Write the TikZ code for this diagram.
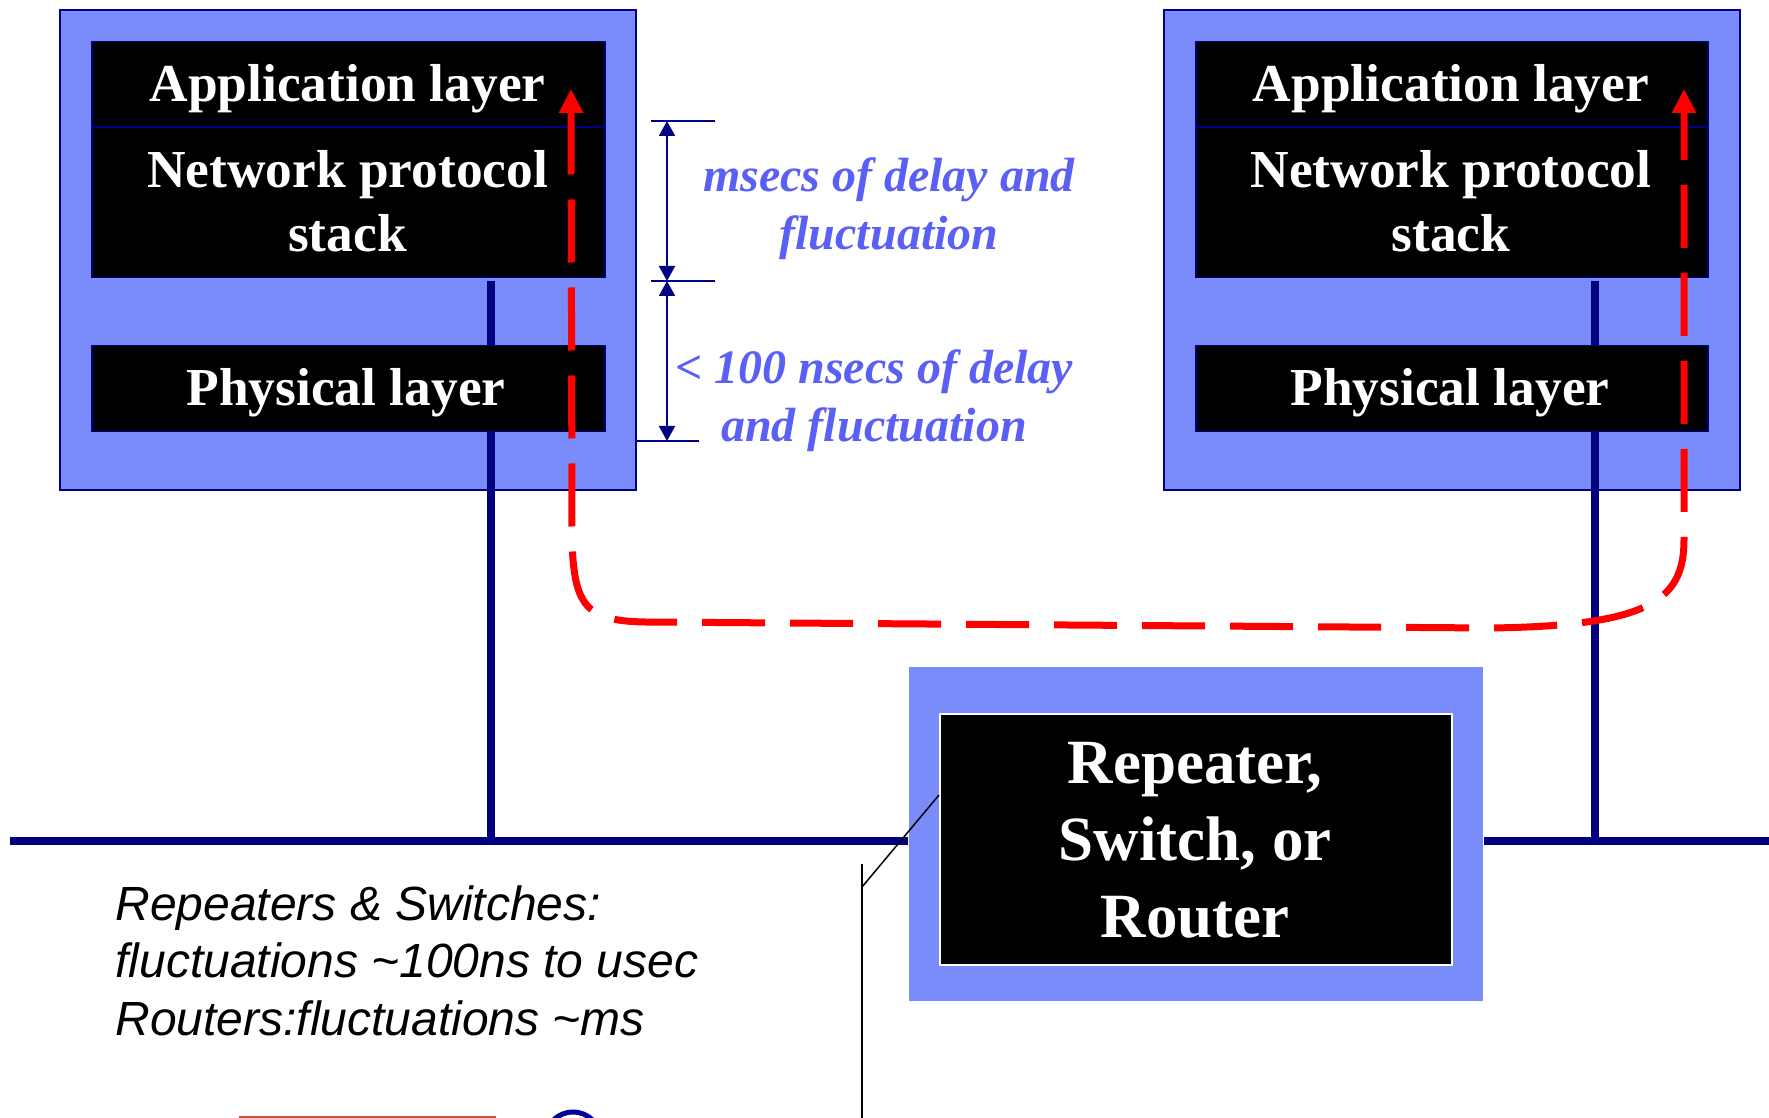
\documentclass[tikz,border=0pt]{standalone}
\usepackage{fontspec}
\setmainfont{Liberation Serif}
\newfontfamily\arialfont{Liberation Sans}
\usetikzlibrary{arrows.meta}
\definecolor{devblue}{RGB}{122,139,250}
\definecolor{navy}{RGB}{0,0,128}
\definecolor{annotblue}{RGB}{90,95,245}
\definecolor{pathred}{RGB}{255,0,0}
\definecolor{footorange}{RGB}{205,85,45}
\begin{document}
\begin{tikzpicture}[x=0.5pt,y=-0.5pt,
  outerbox/.style={draw=navy, line width=1pt, fill=devblue, rectangle, inner sep=0pt, anchor=north west, minimum width=288pt, minimum height=240pt},
  layerbox/.style={draw=navy, line width=0.75pt, fill=black, rectangle, inner sep=0pt, anchor=north west, minimum width=256.5pt},
  devtext/.style={text=white, font=\fontsize{26.7}{32}\selectfont\bfseries, align=center, anchor=base, inner sep=0pt},
  routertext/.style={text=white, font=\fontsize{31.5}{38.5}\selectfont\bfseries, align=center, anchor=base, inner sep=0pt},
  annot/.style={text=annotblue, font=\fontsize{24}{29}\selectfont\bfseries\itshape, align=center, anchor=base, inner sep=0pt},
  note/.style={text=black, font=\arialfont\itshape\fontsize{24}{28.75}\selectfont, align=left, anchor=base west, inner sep=0pt},
  wire/.style={draw=navy, line width=4pt},
  tick/.style={draw=navy, line width=1pt},
  dimarrow/.style={draw=navy, line width=1pt, {Triangle[length=7.5pt,width=8pt]}-{Triangle[length=7.5pt,width=8pt]}},
  redpath/.style={draw=pathred, line width=3.5pt, dash pattern=on 31.5pt off 12.5pt, {Triangle[length=12pt,width=11.5pt]}-{Triangle[length=12pt,width=11.5pt]}},
  callout/.style={draw=black, line width=0.75pt}
]
\useasboundingbox[fill=white] (0,0) rectangle (1769,1118);

% ---------- outer device boxes ----------
\node[outerbox] (leftdev) at (59,9) {};
\node[outerbox] (rightdev) at (1163,9) {};
\node[outerbox, minimum width=287pt, minimum height=167pt, draw=none] (routerbox) at (908,666) {};

% ---------- wires and bus ----------
\coordinate (lwtop) at (491,281);
\coordinate (lwbot) at (491,841);
\coordinate (rwtop) at (1595,281);
\coordinate (rwbot) at (1595,841);
\coordinate (busL) at (10,841);
\coordinate (busR) at (1769,841);
\draw[wire] (lwtop) -- (lwbot);
\draw[wire] (rwtop) -- (rwbot);
\draw[wire] (busL) -- (routerbox.west |- busL);
\draw[wire] (routerbox.east |- busR) -- (busR);

% ---------- layer boxes ----------
\node[layerbox, minimum height=118pt] (lstack) at (91,41) {};
\node[layerbox, minimum height=43pt] (lphys) at (91,345) {};
\node[layerbox, minimum height=118pt, minimum width=256pt] (rstack) at (1195,41) {};
\node[layerbox, minimum height=43pt, minimum width=256pt] (rphys) at (1195,345) {};
\coordinate (ldivL) at (91,127);
\coordinate (ldivR) at (604,127);
\coordinate (rdivL) at (1195,127);
\coordinate (rdivR) at (1707,127);
\draw[navy, line width=1pt] (ldivL) -- (ldivR);
\draw[navy, line width=1pt] (rdivL) -- (rdivR);

\node[devtext] (lapp) at (347.5,102) {Application layer};
\node[devtext] (lnet) at (347.5,252) {Network protocol\\stack};
\node[devtext] (lphystext) at (346,406) {Physical layer};
\node[devtext] (rapp) at (1451,102) {Application layer};
\node[devtext] (rnet) at (1451,252) {Network protocol\\stack};
\node[devtext] (rphystext) at (1450,406) {Physical layer};

% ---------- router ----------
\node[rectangle, fill=black, draw=white, line width=1pt, inner sep=0pt, anchor=north west, minimum width=256pt, minimum height=125.5pt] (router) at (939,713) {};
\node[routertext] (routerlabel) at (1195,937) {Repeater,\\Switch, or\\Router};

% ---------- dimension marks ----------
\coordinate (t1a) at (651,121); \coordinate (t1b) at (715,121);
\coordinate (t2a) at (651,281); \coordinate (t2b) at (715,281);
\coordinate (t3a) at (635,441); \coordinate (t3b) at (699,441);
\coordinate (d1) at (667,121); \coordinate (d2) at (667,281); \coordinate (d3) at (667,441);
\draw[tick] (t1a) -- (t1b);
\draw[tick] (t2a) -- (t2b);
\draw[tick] (t3a) -- (t3b);
\draw[dimarrow] (d1) -- (d2);
\draw[dimarrow] (d2) -- (d3);
\node[annot] (msec) at (889,250) {msecs of delay and\\fluctuation};
\node[annot] (nsec) at (874,442) {< 100 nsecs of delay\\and fluctuation};

% ---------- red end-to-end path ----------
\coordinate (redL) at (571,89);
\coordinate (redR) at (1684,89);
\draw[redpath] (redL) -- (572,540) .. controls (574,605) and (585,621) .. (645,622) -- (1490,628) .. controls (1650,626) and (1684,600) .. (1684,540) -- (redR);

% ---------- callout line ----------
\coordinate (cA) at (939,795);
\coordinate (cB) at (862,887);
\coordinate (cTop) at (862,864);
\coordinate (cBot) at (862,1118);
\draw[callout] (cA) -- (cB);
\draw[callout] (cTop) -- (cBot);

% ---------- note ----------
\node[note] (notes) at (115,1035) {Repeaters \& Switches:\\fluctuations \textasciitilde100ns to usec\\Routers:fluctuations \textasciitilde ms};

% ---------- footer remnants ----------
\begin{scope}
\clip (0,0) rectangle (1769,1118);
\coordinate (fo1) at (239,1117);
\coordinate (fo2) at (496,1117);
\draw[footorange, line width=1.5pt] (fo1) -- (fo2);
\draw[navy!80!blue, line width=2.5pt] (573,1140) circle[radius=28];
\end{scope}
\end{tikzpicture}
\end{document}
